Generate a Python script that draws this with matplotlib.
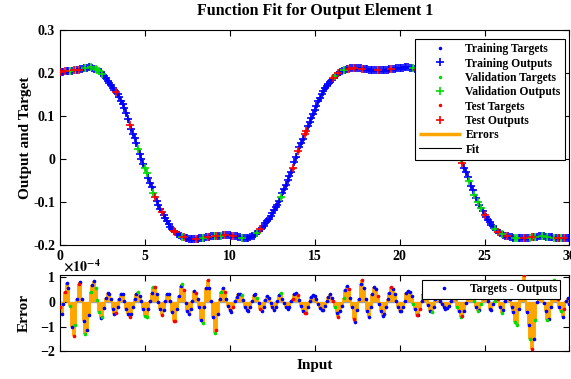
import numpy as np
import matplotlib.pyplot as plt

plt.rcParams['font.family'] = 'Liberation Serif'
plt.rcParams['font.weight'] = 'bold'
plt.rcParams['axes.labelweight'] = 'bold'
plt.rcParams['axes.titleweight'] = 'bold'
plt.rcParams['mathtext.fontset'] = 'stix'

# inputs 0..30, step 0.1
inputs = np.linspace(0, 30, 301)

# targets, one row per unit of input
targets = [
    0.203, 0.203, 0.203, 0.204, 0.204, 0.204, 0.205, 0.205, 0.206, 0.207,
    0.207, 0.208, 0.209, 0.210, 0.211, 0.212, 0.212, 0.213, 0.213, 0.212,
    0.210, 0.209, 0.207, 0.205, 0.202, 0.198, 0.193, 0.188, 0.181, 0.176,
    0.171, 0.166, 0.161, 0.156, 0.150, 0.143, 0.136, 0.128, 0.119, 0.107,
    0.094, 0.080, 0.070, 0.059, 0.048, 0.037, 0.024, 0.012, 0.000, -0.011,
    -0.021, -0.033, -0.044, -0.055, -0.066, -0.078, -0.088, -0.098, -0.107, -0.116,
    -0.124, -0.131, -0.138, -0.145, -0.151, -0.158, -0.163, -0.167, -0.171, -0.174,
    -0.177, -0.179, -0.181, -0.182, -0.183, -0.184, -0.185, -0.185, -0.185, -0.185,
    -0.185, -0.185, -0.184, -0.184, -0.183, -0.183, -0.182, -0.182, -0.181, -0.180,
    -0.180, -0.179, -0.179, -0.178, -0.178, -0.178, -0.177, -0.177, -0.177, -0.177,
    -0.177, -0.178, -0.178, -0.179, -0.180, -0.181, -0.182, -0.183, -0.184, -0.184,
    -0.184, -0.183, -0.182, -0.180, -0.178, -0.175, -0.172, -0.168, -0.164, -0.160,
    -0.155, -0.150, -0.145, -0.139, -0.133, -0.126, -0.119, -0.112, -0.106, -0.097,
    -0.088, -0.079, -0.070, -0.060, -0.050, -0.040, -0.030, -0.021, -0.008, 0.005,
    0.018, 0.028, 0.038, 0.047, 0.057, 0.066, 0.076, 0.085, 0.095, 0.105,
    0.115, 0.124, 0.134, 0.142, 0.150, 0.157, 0.164, 0.169, 0.174, 0.179,
    0.184, 0.188, 0.192, 0.196, 0.199, 0.202, 0.204, 0.206, 0.208, 0.209,
    0.210, 0.211, 0.211, 0.212, 0.212, 0.212, 0.211, 0.211, 0.210, 0.210,
    0.209, 0.209, 0.208, 0.208, 0.208, 0.208, 0.208, 0.208, 0.208, 0.208,
    0.208, 0.208, 0.208, 0.208, 0.209, 0.209, 0.210, 0.210, 0.211, 0.211,
    0.212, 0.212, 0.212, 0.213, 0.213, 0.213, 0.212, 0.211, 0.211, 0.209,
    0.207, 0.205, 0.202, 0.198, 0.193, 0.187, 0.181, 0.176, 0.171, 0.166,
    0.160, 0.154, 0.147, 0.140, 0.131, 0.121, 0.110, 0.097, 0.083, 0.070,
    0.058, 0.048, 0.038, 0.029, 0.019, 0.010, 0.000, -0.010, -0.020, -0.030,
    -0.041, -0.052, -0.062, -0.072, -0.083, -0.091, -0.099, -0.106, -0.114, -0.122,
    -0.130, -0.136, -0.141, -0.147, -0.153, -0.157, -0.162, -0.166, -0.169, -0.172,
    -0.174, -0.176, -0.178, -0.179, -0.180, -0.181, -0.182, -0.183, -0.183, -0.184,
    -0.184, -0.184, -0.184, -0.184, -0.184, -0.184, -0.183, -0.183, -0.182, -0.182,
    -0.181, -0.181, -0.180, -0.180, -0.180, -0.180, -0.181, -0.181, -0.182, -0.182,
    -0.182, -0.183, -0.183, -0.183, -0.184, -0.184, -0.184, -0.184, -0.184, -0.184,
    -0.184,
]

# targets - outputs, in units of 1e-4
errors = [
    -0.2, -0.5, -0.1, 0.4, 0.77, 0.57, -0.16, -1.02, -1.39, -0.95,
    0.1, 0.73, 0.79, 0.1, -0.78, -1.28, -1.15, -0.52, 0.4, 0.7,
    0.83, 0.57, 0.08, -0.4, -0.66, -0.6, -0.26, 0.15, 0.37, 0.33,
    0.1, -0.29, -0.49, -0.46, -0.22, 0.1, 0.33, 0.33, 0.04, -0.29,
    -0.49, -0.6, -0.49, -0.2, 0.1, 0.3, 0.4, 0.24, 0.04, -0.29,
    -0.56, -0.6, -0.29, 0.04, 0.37, 0.6, 0.6, 0.33, 0.0, -0.29,
    -0.52, -0.33, 0.04, 0.3, 0.33, 0.04, -0.42, -0.78, -0.78, -0.29,
    0.24, 0.63, 0.73, 0.5, -0.03, -0.36, -0.49, -0.29, 0.04, 0.44,
    0.37, 0.1, -0.22, -0.75, -0.86, -0.22, 0.57, 0.87, 0.57, 0.04,
    -0.62, -1.26, -1.12, -0.49, 0.1, 0.41, 0.57, 0.41, 0.1, -0.16,
    -0.33, -0.42, -0.2, 0.04, 0.2, 0.3, 0.33, 0.28, 0.07, -0.2,
    -0.33, -0.36, -0.2, 0.04, 0.28, 0.3, 0.17, -0.03, -0.29, -0.36,
    -0.2, 0.08, 0.24, 0.17, -0.03, -0.2, -0.33, -0.22, 0.04, 0.28,
    0.34, 0.1, -0.03, -0.2, -0.29, -0.2, 0.04, 0.1, 0.3, 0.37,
    0.28, 0.07, -0.16, -0.36, -0.46, -0.46, -0.22, 0.04, 0.2, 0.28,
    0.24, 0.1, -0.07, -0.25, -0.33, -0.33, -0.16, 0.04, 0.2, 0.33,
    0.17, 0.04, -0.22, -0.46, -0.6, -0.36, -0.16, 0.17, 0.5, 0.63,
    0.54, 0.17, -0.2, -0.69, -0.82, -0.33, 0.1, 0.73, 0.87, 0.57,
    0.1, -0.36, -0.62, -0.22, 0.3, 0.6, 0.54, 0.24, -0.09, -0.36,
    -0.56, -0.49, -0.22, 0.1, 0.37, 0.6, 0.54, 0.3, 0.04, -0.22,
    -0.38, -0.36, -0.2, 0.04, 0.37, 0.46, 0.41, 0.24, -0.07, -0.29,
    -0.52, -0.52, -0.29, 0.04, 0.3, 0.45, 0.2, -0.12, -0.36, -0.42,
    -0.22, 0.1, 0.35, 0.3, 0.04, -0.1, -0.2, -0.29, -0.25, -0.16,
    0.05, 0.3, 0.4, 0.15, -0.2, -0.36, -0.6, -0.56, -0.36, -0.05,
    0.2, 0.4, 0.45, 0.25, 0.04, -0.2, -0.36, -0.33, -0.1, 0.15,
    0.4, 0.35, 0.05, -0.29, -0.33, -0.1, 0.05, 0.3, 0.1, -0.22,
    -0.46, -0.33, 0.04, 0.4, 0.45, 0.1, -0.2, -0.42, -0.82, -0.95,
    -0.3, 0.3, 0.6, 1.1, 0.2, -0.4, -0.95, -1.5, -1.9, -1.5,
    -0.75, 0.0, 0.3, 0.4, 0.2, -0.05, -0.36, -0.75, -0.69, -0.2,
    0.4, 0.9, 0.6, 0.1, -0.2, -0.36, -0.6, -0.29, 0.05, 0.17,
    -0.09,
]

# sample indices that went to validation and test
val_idx = [6, 9, 15, 18, 21, 22, 23, 25, 46, 50, 51, 55, 72, 84, 91, 95, 107,
           116, 130, 162, 167, 208, 219, 234, 236, 241, 244, 246, 248, 256,
           260, 268, 269, 277, 280, 284, 287, 291, 295]
test_idx = [0, 3, 8, 11, 33, 41, 56, 60, 67, 68, 73, 80, 87, 92, 97, 102,
            118, 137, 140, 144, 145, 161, 164, 170, 173, 178, 187, 195, 210,
            212, 237, 250, 258, 263, 273, 278, 293, 297]

t = np.array(targets)
e = np.array(errors)
y = t - e * 1e-4

sets = np.zeros(len(t), dtype=int)
sets[val_idx] = 1
sets[test_idx] = 2

names = ['Training', 'Validation', 'Test']
cols = ['#0000ff', '#00dd00', '#ff0000']

fig = plt.figure(figsize=(5.71, 3.79), dpi=100)
ax = fig.add_axes([0.105, 0.3536, 0.8923, 0.5673])
ax2 = fig.add_axes([0.105, 0.0731, 0.8923, 0.2021])

ax.plot(inputs, y, color='k', lw=0.8, zorder=1)
handles = []
for k in range(3):
    m = sets == k
    h1, = ax.plot(inputs[m], t[m], '.', color=cols[k], ms=3, zorder=2,
                  label=names[k] + ' Targets')
    h2, = ax.plot(inputs[m], y[m], '+', color=cols[k], ms=6, mew=1.2, zorder=3,
                  label=names[k] + ' Outputs')
    handles += [h1, h2]
herr = ax.vlines(inputs, t, y, color='#ffa500', lw=2.5, label='Errors')
hfit, = ax.plot([], [], color='k', lw=0.8, label='Fit')
handles += [herr, hfit]

ax.set_xlim(0, 30)
ax.set_ylim(-0.2, 0.3)
ax.set_yticks([-0.2, -0.1, 0, 0.1, 0.2, 0.3])
ax.set_yticklabels(['-0.2', '-0.1', '0', '0.1', '0.2', '0.3'])
ax.set_xticks([0, 5, 10, 15, 20, 25, 30])
ax.set_ylabel('Output and Target', fontsize=11, labelpad=1)
ax.set_title('Function Fit for Output Element 1', fontsize=11.5, pad=11)
leg = ax.legend(handles=handles, loc='upper right', bbox_to_anchor=(0.992, 0.96),
                borderaxespad=0, fontsize=8.4, handlelength=3.6, handletextpad=0.35,
                labelspacing=0.2, borderpad=0.4, fancybox=False, edgecolor='k',
                framealpha=1, numpoints=1)
leg.get_frame().set_linewidth(0.8)

# error panel
ax2.axhline(0, color='#a0a0a0', lw=1, zorder=1)
ax2.vlines(inputs, 0, e, color='#ffa500', lw=2.8, zorder=2)
for k in range(3):
    m = sets == k
    hd, = ax2.plot(inputs[m], e[m], '.', color=cols[k], ms=3.2, zorder=3)
    if k == 0:
        hdot = hd
ax2.set_xlim(0, 30)
ax2.set_ylim(-2, 1.1)
ax2.set_yticks([-2, -1, 0, 1])
ax2.set_xticks([0, 5, 10, 15, 20, 25, 30])
ax2.set_xticklabels([])
ax2.set_ylabel('Error', fontsize=11, labelpad=7)
ax2.set_xlabel('Input', fontsize=11, labelpad=2)
ax2.text(0.005, 1.0, r'$\times10^{-4}$', transform=ax2.transAxes, fontsize=10,
         va='bottom', ha='left', fontweight='normal')
leg2 = ax2.legend([hdot], ['Targets - Outputs'], loc='upper right',
                  bbox_to_anchor=(0.982, 0.935), borderaxespad=0, fontsize=8.4,
                  handlelength=3.2, handletextpad=0.55, borderpad=0.3,
                  fancybox=False, edgecolor='k', framealpha=1, numpoints=1)
leg2.get_frame().set_linewidth(0.8)

for a in (ax, ax2):
    a.tick_params(direction='in', top=True, right=True, length=4, width=0.8,
                  labelsize=10)
    for s in a.spines.values():
        s.set_linewidth(0.8)

fig.savefig('out.png', dpi=100)
